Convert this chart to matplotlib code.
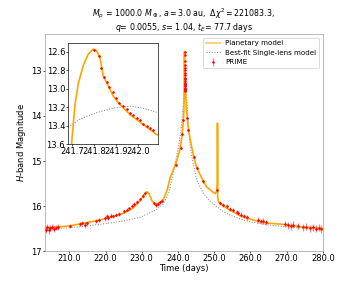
import matplotlib
matplotlib.use("Agg")
import matplotlib.pyplot as plt
import numpy as np

## planetary model
model_t = [203.3, 206.0, 210.0, 214.0, 218.5, 222.0, 225.0, 227.5, 229.5, 230.5,
           231.4, 232.0, 232.8, 233.7, 234.8, 236.0, 237.0, 237.8, 238.7, 239.7,
           240.5, 241.1, 241.5, 241.62, 241.696, 241.711, 241.726, 241.749, 241.772,
           241.795, 241.81, 241.825, 241.84, 241.863, 241.886, 241.916, 241.962,
           242.023, 242.091, 242.2, 242.4, 242.9, 243.4, 244.3, 245.2, 246.1, 247.0,
           247.9, 248.9, 249.8, 250.3, 250.7, 250.88, 250.9, 250.95, 251.2, 251.6,
           253.5, 255.3, 257.0, 259.0, 262.7, 265.0, 268.2, 273.7, 280.0]
model_mag = [16.50, 16.47, 16.44, 16.38, 16.31, 16.23, 16.16, 16.05, 15.88, 15.76,
             15.68, 15.72, 15.88, 15.96, 15.93, 15.85, 15.65, 15.38, 15.20, 14.98,
             14.75, 14.46, 14.09, 13.90, 13.60, 13.19, 12.95, 12.75, 12.625,
             12.57, 12.59, 12.66, 12.86, 12.97, 13.08, 13.17, 13.28,
             13.39, 13.51, 13.65, 13.90, 14.31, 14.53, 14.90, 15.15, 15.30, 15.45,
             15.57, 15.64, 15.70, 15.72, 15.66, 15.50, 14.16, 15.80, 15.90, 15.94,
             16.05, 16.13, 16.21, 16.27, 16.35, 16.38, 16.40, 16.46, 16.50]

## best-fit single-lens model
single_t = [203.3, 210.0, 215.0, 220.0, 225.0, 229.5, 232.3, 234.0, 236.0, 237.5,
            238.7, 239.5, 240.3, 240.8, 241.2, 241.5, 241.68, 241.734, 241.81,
            241.886, 241.962, 242.02, 242.09, 242.3, 242.6, 243.0, 243.4, 244.3,
            245.2, 247.0, 249.0, 250.7, 252.5, 254.4, 257.0, 260.0, 265.0, 270.0,
            275.0, 280.0]
single_mag = [16.52, 16.48, 16.44, 16.39, 16.33, 16.25, 16.15, 16.08, 15.95, 15.70,
              15.25, 14.95, 14.60, 14.35, 14.00, 13.70, 13.42, 13.33, 13.26,
              13.21, 13.19, 13.21, 13.26, 13.50, 13.85, 14.30, 14.70, 15.10,
              15.42, 15.72, 15.90, 16.01, 16.12, 16.20, 16.28, 16.35, 16.42, 16.46,
              16.49, 16.52]

## PRIME observations
obs_t = [203.5, 203.9, 204.3, 204.8, 205.2, 205.7, 206.3, 206.9, 210.2, 213.0,
         213.6, 214.3, 214.8, 217.5, 218.3, 219.9, 220.3, 220.8, 221.4, 222.0,
         222.9, 223.8, 225.2, 225.8, 226.6, 227.4, 228.0, 228.8, 229.6, 230.4,
         231.0, 233.4, 233.9, 234.5, 235.0, 235.6, 239.4, 240.7, 241.2, 241.5,
         241.800, 241.821, 241.830, 241.843, 241.856, 241.868, 241.883, 241.898,
         241.913, 241.932, 241.947, 241.962, 241.977, 241.993, 242.008, 242.023,
         242.038, 242.053, 242.066, 242.5, 242.9, 244.3, 245.2, 247.0, 250.7,
         251.5, 252.5, 253.4, 254.3, 255.2, 256.2, 256.6, 257.5, 258.3, 259.0,
         262.2, 262.9, 263.6, 264.4, 269.6, 270.3, 271.1, 271.8, 273.0, 274.6,
         275.4, 276.3, 277.2, 278.0, 278.8, 279.6]
obs_mag = [16.52, 16.47, 16.53, 16.49, 16.46, 16.51, 16.48, 16.46, 16.44, 16.40,
           16.37, 16.42, 16.38, 16.33, 16.31, 16.27, 16.22, 16.26, 16.21, 16.23,
           16.19, 16.17, 16.12, 16.08, 16.05, 15.99, 15.95, 15.91, 15.85, 15.78,
           15.72, 15.94, 15.97, 15.95, 15.92, 15.88, 15.08, 14.70, 14.40, 14.10,
           12.58, 12.64, 12.78, 12.87, 12.93, 12.98, 13.04, 13.10,
           13.15, 13.19, 13.22, 13.26, 13.29, 13.32, 13.34, 13.38,
           13.41, 13.43, 13.45, 14.05, 14.31, 14.90, 15.15, 15.45, 15.64,
           15.93, 15.98, 16.00, 16.06, 16.09, 16.13, 16.15, 16.19, 16.22, 16.25,
           16.31, 16.34, 16.33, 16.36, 16.40, 16.43, 16.45, 16.41, 16.44, 16.47,
           16.46, 16.49, 16.47, 16.50, 16.48, 16.51]
obs_err = [0.08, 0.07, 0.08, 0.07, 0.07, 0.07, 0.06, 0.07, 0.05, 0.05,
           0.05, 0.06, 0.05, 0.04, 0.04, 0.05, 0.05, 0.05, 0.05, 0.04,
           0.04, 0.04, 0.04, 0.04, 0.04, 0.04, 0.04, 0.04, 0.04, 0.04,
           0.04, 0.04, 0.04, 0.04, 0.03, 0.03, 0.03, 0.03, 0.02, 0.02,
           0.01, 0.01, 0.01, 0.01, 0.01, 0.01, 0.01, 0.01,
           0.01, 0.01, 0.01, 0.01, 0.01, 0.01, 0.01, 0.01,
           0.01, 0.01, 0.01, 0.02, 0.02, 0.03, 0.03, 0.03, 0.03,
           0.04, 0.04, 0.04, 0.04, 0.04, 0.05, 0.05, 0.05, 0.05, 0.05,
           0.06, 0.06, 0.06, 0.06, 0.07, 0.07, 0.07, 0.07, 0.07, 0.08,
           0.08, 0.08, 0.08, 0.08, 0.08, 0.08]

title = ("$M_p$ = 1000.0 $M_\\oplus$, $a = 3.0$ au,  $\\Delta\\chi^2 = 221083.3$,\n"
         "$q$= 0.0055, $s$= 1.04, $t_E$= 77.7 days")

plt.rcParams['xtick.major.size'] = 2
plt.rcParams['ytick.major.size'] = 2
plt.rcParams['xtick.major.pad'] = 2
plt.rcParams['ytick.major.pad'] = 1.5


def draw(ax):
    ax.plot(model_t, model_mag, color='orange', lw=2, label='Planetary model', zorder=2)
    ax.plot(single_t, single_mag, ':', color='gray', lw=1.2, label='Best-fit Single-lens model', zorder=1)
    ax.errorbar(obs_t, obs_mag, yerr=obs_err, fmt='.', color='red', ms=3.8,
                ecolor=(1, 0, 0, 0.5), elinewidth=1.5, label='PRIME', zorder=3)


fig = plt.figure(figsize=(6, 4.8), dpi=60)
ax = fig.add_axes([0.125, 0.128, 0.772, 0.754])
draw(ax)
ax.set_xlim(203.3, 280)
ax.set_ylim(17, 12.18)
ax.set_xticks(np.arange(210, 281, 10))
ax.set_xticklabels(['%.1f' % v for v in np.arange(210, 281, 10)])
ax.set_yticks([13, 14, 15, 16, 17])
ax.set_xlabel('Time (days)', labelpad=1)
ax.set_ylabel('$H$-band Magnitude')
ax.yaxis.set_label_coords(-0.06, 0.5)
ax.set_title(title, fontsize=9.5, pad=2, linespacing=1.05)
leg = ax.legend(loc='upper right', fontsize=8.5)
leg.get_lines()[0].set_alpha(0.5)
leg.get_lines()[0].set_linewidth(2.5)
for sp in ax.spines.values():
    sp.set_color('#999999')

## zoomed inset on the caustic peak
ins = fig.add_axes([0.189, 0.5, 0.25, 0.352])
draw(ins)
ins.set_xlim(241.68, 242.09)
ins.set_ylim(13.6, 12.5)
ins.set_xticks([241.7, 241.8, 241.9, 242.0])
ins.set_xticklabels(['241.7', '241.8', '241.9', '242.0'])
ins.set_yticks([12.6, 12.8, 13.0, 13.2, 13.4, 13.6])
ins.set_yticklabels(['12.6', '12.8', '13.0', '13.2', '13.4', '13.6'])

fig.savefig('out.png', dpi=60)
